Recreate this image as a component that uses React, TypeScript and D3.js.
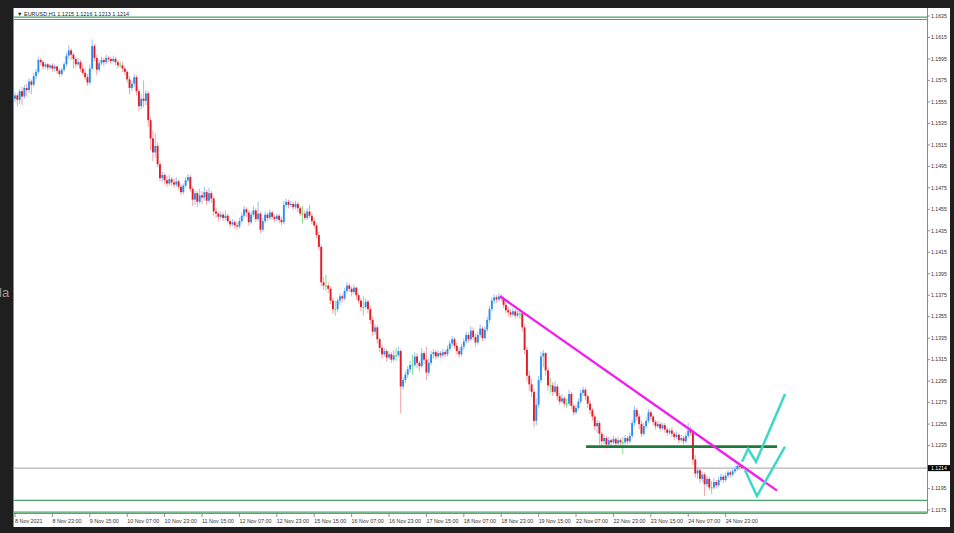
import React from 'react';
import * as d3 from 'd3';

// Hourly EURUSD bars, one list per trading day: [open, high, low, close]
type Bar = [number, number, number, number];

const nov08: Bar[] = [
  [1.1558,1.1564,1.1555,1.1561],[1.1561,1.1563,1.1551,1.1557],[1.1557,1.1567,1.1553,1.1565],
  [1.1565,1.1569,1.1552,1.1560],[1.1560,1.1571,1.1558,1.1568],[1.1568,1.1572,1.1560,1.1566],
  [1.1566,1.1577,1.1563,1.1574],[1.1574,1.1576,1.1562,1.1571],[1.1571,1.1582,1.1569,1.1579],
  [1.1579,1.1586,1.1576,1.1583],[1.1583,1.1597,1.1581,1.1594],[1.1594,1.1596,1.1589,1.1592],
  [1.1592,1.1594,1.1585,1.1588],[1.1588,1.1592,1.1586,1.1590],[1.1590,1.1591,1.1584,1.1587],
  [1.1587,1.1590,1.1585,1.1589],[1.1589,1.1591,1.1583,1.1586],
];
const nov09: Bar[] = [
  [1.1586,1.1590,1.1583,1.1588],[1.1588,1.1589,1.1581,1.1584],[1.1584,1.1586,1.1578,1.1581],
  [1.1581,1.1587,1.1579,1.1585],[1.1585,1.1592,1.1583,1.1590],[1.1590,1.1601,1.1588,1.1598],
  [1.1598,1.1608,1.1595,1.1603],[1.1603,1.1605,1.1594,1.1599],[1.1599,1.1601,1.1586,1.1595],
  [1.1595,1.1597,1.1587,1.1590],[1.1590,1.1596,1.1588,1.1592],[1.1592,1.1594,1.1583,1.1586],
  [1.1586,1.1591,1.1580,1.1582],[1.1582,1.1586,1.1575,1.1578],[1.1578,1.1581,1.1570,1.1573],
  [1.1573,1.1590,1.1571,1.1586],[1.1586,1.1613,1.1584,1.1607],[1.1607,1.1609,1.1593,1.1596],
  [1.1596,1.1599,1.1580,1.1585],[1.1585,1.1594,1.1583,1.1591],[1.1591,1.1597,1.1589,1.1594],
  [1.1594,1.1596,1.1588,1.1592],[1.1592,1.1599,1.1590,1.1596],[1.1596,1.1598,1.1592,1.1595],
];
const nov10: Bar[] = [
  [1.1595,1.1597,1.1590,1.1593],[1.1593,1.1598,1.1591,1.1595],[1.1595,1.1597,1.1589,1.1592],
  [1.1592,1.1594,1.1586,1.1589],[1.1589,1.1593,1.1587,1.1589],[1.1589,1.1592,1.1583,1.1586],
  [1.1586,1.1588,1.1580,1.1583],[1.1583,1.1585,1.1573,1.1576],[1.1576,1.1579,1.1562,1.1568],
  [1.1568,1.1575,1.1565,1.1572],[1.1572,1.1581,1.1569,1.1578],[1.1578,1.1580,1.1561,1.1565],
  [1.1565,1.1567,1.1546,1.1551],[1.1551,1.1562,1.1548,1.1558],[1.1558,1.1575,1.1550,1.1556],
  [1.1556,1.1566,1.1552,1.1563],[1.1563,1.1565,1.1532,1.1538],[1.1538,1.1541,1.1510,1.1521],
  [1.1521,1.1528,1.1500,1.1508],[1.1508,1.1526,1.1503,1.1514],[1.1514,1.1517,1.1494,1.1497],
  [1.1497,1.1500,1.1481,1.1484],[1.1484,1.1490,1.1480,1.1487],[1.1487,1.1489,1.1478,1.1482],
];
const nov11: Bar[] = [
  [1.1482,1.1486,1.1476,1.1479],[1.1479,1.1487,1.1477,1.1483],[1.1483,1.1485,1.1477,1.1480],
  [1.1480,1.1484,1.1475,1.1478],[1.1478,1.1485,1.1476,1.1481],[1.1481,1.1483,1.1473,1.1476],
  [1.1476,1.1478,1.1468,1.1471],[1.1471,1.1479,1.1469,1.1477],[1.1477,1.1485,1.1475,1.1482],
  [1.1482,1.1488,1.1480,1.1485],[1.1485,1.1487,1.1471,1.1474],[1.1474,1.1476,1.1458,1.1464],
  [1.1464,1.1473,1.1459,1.1470],[1.1470,1.1472,1.1457,1.1462],[1.1462,1.1474,1.1460,1.1468],
  [1.1468,1.1472,1.1460,1.1466],[1.1466,1.1476,1.1463,1.1471],[1.1471,1.1473,1.1459,1.1463],
  [1.1463,1.1475,1.1461,1.1470],[1.1470,1.1472,1.1461,1.1465],[1.1465,1.1467,1.1449,1.1453],
  [1.1453,1.1456,1.1447,1.1451],[1.1451,1.1453,1.1444,1.1448],[1.1448,1.1453,1.1446,1.1450],
];
const nov12: Bar[] = [
  [1.1450,1.1452,1.1444,1.1447],[1.1447,1.1454,1.1445,1.1449],[1.1449,1.1451,1.1442,1.1444],
  [1.1444,1.1446,1.1438,1.1441],[1.1441,1.1446,1.1439,1.1443],[1.1443,1.1445,1.1437,1.1440],
  [1.1440,1.1443,1.1436,1.1439],[1.1439,1.1447,1.1437,1.1444],[1.1444,1.1452,1.1442,1.1449],
  [1.1449,1.1458,1.1447,1.1455],[1.1455,1.1457,1.1448,1.1452],[1.1452,1.1454,1.1440,1.1443],
  [1.1443,1.1453,1.1441,1.1450],[1.1450,1.1458,1.1448,1.1454],[1.1454,1.1456,1.1443,1.1446],
  [1.1446,1.1462,1.1444,1.1451],[1.1451,1.1453,1.1433,1.1436],[1.1436,1.1447,1.1434,1.1444],
  [1.1444,1.1453,1.1442,1.1450],[1.1450,1.1452,1.1444,1.1447],[1.1447,1.1455,1.1445,1.1452],
  [1.1452,1.1454,1.1445,1.1448],[1.1448,1.1450,1.1443,1.1446],[1.1446,1.1451,1.1444,1.1449],
];
const nov15: Bar[] = [
  [1.1449,1.1451,1.1442,1.1445],[1.1445,1.1448,1.1440,1.1443],[1.1443,1.1463,1.1441,1.1459],
  [1.1459,1.1465,1.1457,1.1462],[1.1462,1.1464,1.1456,1.1459],[1.1459,1.1463,1.1457,1.1460],
  [1.1460,1.1462,1.1454,1.1457],[1.1457,1.1463,1.1455,1.1460],[1.1460,1.1462,1.1452,1.1456],
  [1.1456,1.1458,1.1449,1.1451],[1.1451,1.1458,1.1442,1.1451],[1.1451,1.1454,1.1445,1.1447],
  [1.1447,1.1456,1.1445,1.1453],[1.1453,1.1459,1.1447,1.1449],[1.1449,1.1452,1.1441,1.1444],
  [1.1444,1.1447,1.1437,1.1440],[1.1440,1.1442,1.1428,1.1431],[1.1431,1.1434,1.1417,1.1420],
  [1.1420,1.1422,1.1383,1.1387],[1.1387,1.1392,1.1380,1.1384],[1.1384,1.1394,1.1379,1.1384],
  [1.1384,1.1387,1.1377,1.1381],[1.1381,1.1383,1.1367,1.1370],[1.1370,1.1373,1.1358,1.1362],
];
const nov16: Bar[] = [
  [1.1362,1.1370,1.1356,1.1362],[1.1362,1.1372,1.1359,1.1370],[1.1370,1.1377,1.1366,1.1374],
  [1.1374,1.1376,1.1368,1.1372],[1.1372,1.1382,1.1370,1.1379],[1.1379,1.1387,1.1377,1.1384],
  [1.1384,1.1386,1.1378,1.1381],[1.1381,1.1383,1.1374,1.1378],[1.1378,1.1385,1.1376,1.1382],
  [1.1382,1.1383,1.1371,1.1375],[1.1375,1.1377,1.1367,1.1370],[1.1370,1.1372,1.1360,1.1364],
  [1.1364,1.1374,1.1356,1.1364],[1.1364,1.1372,1.1362,1.1369],[1.1369,1.1371,1.1358,1.1362],
  [1.1362,1.1365,1.1348,1.1352],[1.1352,1.1355,1.1337,1.1341],[1.1341,1.1348,1.1338,1.1345],
  [1.1345,1.1347,1.1330,1.1334],[1.1334,1.1336,1.1322,1.1326],[1.1326,1.1329,1.1316,1.1320],
  [1.1320,1.1326,1.1318,1.1323],[1.1323,1.1325,1.1313,1.1317],[1.1317,1.1323,1.1315,1.1320],
];
const nov17: Bar[] = [
  [1.1320,1.1322,1.1312,1.1315],[1.1315,1.1324,1.1313,1.1319],[1.1319,1.1326,1.1314,1.1319],
  [1.1319,1.1327,1.1317,1.1323],[1.1323,1.1325,1.1265,1.1290],[1.1290,1.1299,1.1287,1.1296],
  [1.1296,1.1304,1.1293,1.1301],[1.1301,1.1309,1.1298,1.1306],[1.1306,1.1314,1.1303,1.1310],
  [1.1310,1.1320,1.1301,1.1310],[1.1310,1.1322,1.1308,1.1318],[1.1318,1.1321,1.1307,1.1312],
  [1.1312,1.1314,1.1304,1.1309],[1.1309,1.1326,1.1307,1.1321],[1.1321,1.1323,1.1311,1.1315],
  [1.1315,1.1327,1.1296,1.1303],[1.1303,1.1316,1.1300,1.1312],[1.1312,1.1323,1.1310,1.1320],
  [1.1320,1.1325,1.1316,1.1322],[1.1322,1.1324,1.1315,1.1318],[1.1318,1.1324,1.1316,1.1321],
  [1.1321,1.1323,1.1316,1.1319],[1.1319,1.1325,1.1317,1.1322],[1.1322,1.1324,1.1317,1.1320],
];
const nov18: Bar[] = [
  [1.1320,1.1328,1.1318,1.1325],[1.1325,1.1333,1.1323,1.1330],[1.1330,1.1337,1.1327,1.1334],
  [1.1334,1.1336,1.1325,1.1328],[1.1328,1.1331,1.1320,1.1323],[1.1323,1.1326,1.1317,1.1320],
  [1.1320,1.1330,1.1318,1.1327],[1.1327,1.1335,1.1324,1.1332],[1.1332,1.1341,1.1330,1.1338],
  [1.1338,1.1340,1.1331,1.1334],[1.1334,1.1346,1.1332,1.1342],[1.1342,1.1345,1.1333,1.1336],
  [1.1336,1.1339,1.1327,1.1331],[1.1331,1.1341,1.1329,1.1338],[1.1338,1.1348,1.1336,1.1344],
  [1.1344,1.1346,1.1332,1.1335],[1.1335,1.1346,1.1333,1.1343],[1.1343,1.1355,1.1341,1.1352],
  [1.1352,1.1365,1.1349,1.1362],[1.1362,1.1373,1.1360,1.1370],[1.1370,1.1376,1.1367,1.1373],
  [1.1373,1.1375,1.1368,1.1371],[1.1371,1.1377,1.1369,1.1374],[1.1374,1.1376,1.1369,1.1372],
];
const nov19: Bar[] = [
  [1.1372,1.1374,1.1363,1.1366],[1.1366,1.1368,1.1358,1.1361],[1.1361,1.1364,1.1355,1.1359],
  [1.1359,1.1362,1.1354,1.1357],[1.1357,1.1363,1.1355,1.1360],[1.1360,1.1362,1.1353,1.1356],
  [1.1356,1.1361,1.1354,1.1358],[1.1358,1.1362,1.1353,1.1358],[1.1358,1.1360,1.1341,1.1345],
  [1.1345,1.1348,1.1320,1.1324],[1.1324,1.1327,1.1295,1.1300],[1.1300,1.1305,1.1286,1.1292],
  [1.1292,1.1297,1.1280,1.1285],[1.1285,1.1288,1.1252,1.1258],[1.1258,1.1279,1.1254,1.1273],
  [1.1273,1.1300,1.1270,1.1296],[1.1296,1.1322,1.1293,1.1318],[1.1318,1.1324,1.1308,1.1321],
  [1.1321,1.1322,1.1300,1.1305],[1.1305,1.1308,1.1286,1.1291],[1.1291,1.1298,1.1284,1.1291],
  [1.1291,1.1294,1.1281,1.1285],[1.1285,1.1295,1.1283,1.1290],[1.1290,1.1292,1.1277,1.1281],
];
const nov22: Bar[] = [
  [1.1281,1.1284,1.1273,1.1276],[1.1276,1.1283,1.1274,1.1279],[1.1279,1.1281,1.1271,1.1274],
  [1.1274,1.1279,1.1270,1.1274],[1.1274,1.1287,1.1272,1.1283],[1.1283,1.1285,1.1269,1.1272],
  [1.1272,1.1274,1.1263,1.1266],[1.1266,1.1273,1.1264,1.1270],[1.1270,1.1279,1.1268,1.1276],
  [1.1276,1.1287,1.1274,1.1284],[1.1284,1.1290,1.1281,1.1287],[1.1287,1.1289,1.1277,1.1281],
  [1.1281,1.1283,1.1270,1.1274],[1.1274,1.1277,1.1264,1.1268],[1.1268,1.1270,1.1258,1.1262],
  [1.1262,1.1264,1.1249,1.1253],[1.1253,1.1259,1.1247,1.1256],[1.1256,1.1258,1.1236,1.1246],
  [1.1246,1.1248,1.1233,1.1239],[1.1239,1.1245,1.1236,1.1242],[1.1242,1.1244,1.1232,1.1236],
  [1.1236,1.1243,1.1234,1.1240],[1.1240,1.1242,1.1234,1.1238],[1.1238,1.1244,1.1236,1.1241],
];
const nov23: Bar[] = [
  [1.1241,1.1243,1.1234,1.1237],[1.1237,1.1243,1.1235,1.1240],[1.1240,1.1242,1.1235,1.1238],
  [1.1238,1.1243,1.1227,1.1238],[1.1238,1.1245,1.1236,1.1242],[1.1242,1.1244,1.1236,1.1239],
  [1.1239,1.1247,1.1237,1.1244],[1.1244,1.1259,1.1242,1.1256],[1.1256,1.1272,1.1253,1.1268],
  [1.1268,1.1270,1.1258,1.1262],[1.1262,1.1265,1.1250,1.1255],[1.1255,1.1258,1.1243,1.1246],
  [1.1246,1.1256,1.1244,1.1253],[1.1253,1.1261,1.1251,1.1258],[1.1258,1.1269,1.1256,1.1266],
  [1.1266,1.1268,1.1259,1.1262],[1.1262,1.1264,1.1254,1.1257],[1.1257,1.1259,1.1250,1.1253],
  [1.1253,1.1258,1.1251,1.1255],[1.1255,1.1257,1.1248,1.1251],[1.1251,1.1256,1.1249,1.1254],
  [1.1254,1.1256,1.1247,1.1250],[1.1250,1.1252,1.1244,1.1247],[1.1247,1.1251,1.1245,1.1249],
];
const nov24: Bar[] = [
  [1.1249,1.1252,1.1243,1.1246],[1.1246,1.1248,1.1240,1.1243],[1.1243,1.1248,1.1241,1.1245],
  [1.1245,1.1247,1.1237,1.1240],[1.1240,1.1245,1.1238,1.1242],[1.1242,1.1244,1.1236,1.1239],
  [1.1239,1.1247,1.1237,1.1244],[1.1244,1.1256,1.1242,1.1249],[1.1249,1.1253,1.1244,1.1247],
  [1.1247,1.1250,1.1217,1.1222],[1.1222,1.1226,1.1205,1.1209],[1.1209,1.1215,1.1204,1.1212],
  [1.1212,1.1214,1.1200,1.1204],[1.1204,1.1211,1.1201,1.1208],[1.1208,1.1210,1.1188,1.1199],
  [1.1199,1.1207,1.1196,1.1204],[1.1204,1.1206,1.1193,1.1196],[1.1196,1.1202,1.1190,1.1196],
  [1.1196,1.1205,1.1194,1.1201],[1.1201,1.1203,1.1195,1.1198],[1.1198,1.1206,1.1196,1.1203],
  [1.1203,1.1209,1.1201,1.1206],[1.1206,1.1208,1.1200,1.1203],[1.1203,1.1210,1.1201,1.1207],
];
const nov25: Bar[] = [
  [1.1207,1.1212,1.1205,1.1210],[1.1210,1.1212,1.1205,1.1208],[1.1208,1.1214,1.1206,1.1211],
  [1.1211,1.1216,1.1209,1.1213],[1.1213,1.1218,1.1211,1.1216],[1.1216,1.1218,1.1212,1.1215],
  [1.1215,1.1216,1.1213,1.1214],
];

const days: Bar[][] = [nov08, nov09, nov10, nov11, nov12, nov15, nov16, nov17, nov18, nov19, nov22, nov23, nov24, nov25];

// Price axis labels
const priceTicks = [
  1.1635, 1.1615, 1.1595, 1.1575, 1.1555, 1.1535, 1.1515, 1.1495, 1.1475, 1.1455, 1.1435, 1.1415,
  1.1395, 1.1375, 1.1355, 1.1335, 1.1315, 1.1295, 1.1275, 1.1255, 1.1235, 1.1215, 1.1195, 1.1175,
];
// Time axis labels, one every 16 bars
const timeLabelStep = 16;
const timeLabels = [
  '8 Nov 2021', '8 Nov 23:00', '9 Nov 15:00', '10 Nov 07:00', '10 Nov 23:00', '11 Nov 15:00',
  '12 Nov 07:00', '12 Nov 23:00', '15 Nov 15:00', '16 Nov 07:00', '16 Nov 23:00', '17 Nov 15:00',
  '18 Nov 07:00', '18 Nov 23:00', '19 Nov 15:00', '22 Nov 07:00', '22 Nov 23:00', '23 Nov 15:00',
  '24 Nov 07:00', '24 Nov 23:00',
];

const symbol = 'EURUSD,H1';
const lastQuote = [1.1215, 1.1216, 1.1213, 1.1214];
const bidPrice = 1.1214;

// Drawn objects: [bar index, price]
const greenLevels = [1.1634, 1.1184, 1.1173];
const trendLine: [number, number][] = [[207.5, 1.1374], [326, 1.1193]];
const supportLine: [number, number][] = [[244.3, 1.1234], [326, 1.1234]];
const pathUpper: [number, number][] = [[311, 1.1220], [313.6, 1.1232], [317, 1.1220], [329.4, 1.1283]];
const pathLower: [number, number][] = [[312.3, 1.1212], [317.4, 1.1188], [329.4, 1.1234]];

const W = 954;
const H = 533;
const FONT = '"Liberation Sans", Arial, sans-serif';

export default function App() {
  const bars = days.flat();
  const x = d3.scaleLinear().domain([0, bars.length - 1]).range([15, 742]);
  const y = d3.scaleLinear().domain([1.1175, 1.1635]).range([510, 16]);

  const plotLeft = 13;
  const axisX = 927;
  const plotTop = 8;
  const plotBottom = 513.5;

  const line = d3.line<[number, number]>().x(d => x(d[0])).y(d => y(d[1]));
  const fmt = d3.format('.4f');

  return (
    <svg width={W} height={H} style={{ position: 'absolute', left: 0, top: 0, display: 'block' }}>
      <rect x={0} y={0} width={W} height={H} fill="#1f1f1f" />
      <text x={-1} y={297} fontFamily={FONT} fontSize={13} fill="#9b9b9b">la</text>
      {/* chart window */}
      <rect x={plotLeft} y={plotTop} width={950 - plotLeft} height={527 - plotTop} fill="#ffffff" />
      <line x1={plotLeft + 0.5} x2={plotLeft + 0.5} y1={plotTop} y2={527} stroke="#8a8a8a" strokeWidth={1} />

      {/* header */}
      <text x={17} y={15.5} fontFamily={FONT} fontSize={5.5} fill="#222">
        {'▼ ' + symbol + '  ' + lastQuote.map(fmt).join(' ')}
      </text>

      {/* horizontal level lines */}
      {greenLevels.map((p, i) => (
        <line key={'lv' + i} x1={plotLeft} x2={axisX} y1={y(p)} y2={y(p)} stroke="#4aa56a" strokeWidth={1.2} />
      ))}
      <line x1={plotLeft} x2={axisX} y1={19.5} y2={19.5} stroke="#7c8a80" strokeWidth={1} />
      <line x1={plotLeft} x2={axisX} y1={plotBottom} y2={plotBottom} stroke="#8a8a8a" strokeWidth={1} />

      {/* bid line */}
      <line x1={plotLeft} x2={axisX} y1={y(bidPrice)} y2={y(bidPrice)} stroke="#a3a3a3" strokeWidth={1} />

      {/* candles */}
      {bars.map(([o, h, l, c], i) => {
        const cx = x(i);
        const up = c > o;
        const down = c < o;
        const wick = up ? '#93c4f2' : down ? '#f2a2a8' : '#86de86';
        const body = up ? '#2c8ff0' : down ? '#e01c26' : '#52cc52';
        const top = y(Math.max(o, c));
        const bh = Math.max(0.9, Math.abs(y(o) - y(c)));
        return (
          <g key={'b' + i}>
            <line x1={cx} x2={cx} y1={y(h)} y2={y(l)} stroke={wick} strokeWidth={1} />
            <rect x={cx - 0.95} y={top} width={1.9} height={bh} fill={body} />
          </g>
        );
      })}

      {/* drawn objects */}
      <path d={line(supportLine) || ''} stroke="#1e7a3a" strokeWidth={2.6} fill="none" />
      <path d={line(trendLine) || ''} stroke="#f01ef0" strokeWidth={2.3} fill="none" />
      <path d={line(pathUpper) || ''} stroke="#3ed8c9" strokeWidth={2.5} fill="none" strokeLinejoin="miter" />
      <path d={line(pathLower) || ''} stroke="#3ed8c9" strokeWidth={2.5} fill="none" strokeLinejoin="miter" />

      {/* price axis */}
      <line x1={axisX + 0.5} x2={axisX + 0.5} y1={plotTop} y2={plotBottom} stroke="#8a8a8a" strokeWidth={1} />
      {priceTicks.map(p => (
        <g key={'pt' + p}>
          <line x1={axisX} x2={axisX + 3} y1={y(p)} y2={y(p)} stroke="#777" strokeWidth={0.8} />
          <text x={axisX + 4} y={y(p) + 1.8} fontFamily={FONT} fontSize={5.2} fill="#333">{fmt(p)}</text>
        </g>
      ))}
      <rect x={axisX + 1} y={y(bidPrice) - 3} width={22} height={6} fill="#000" />
      <text x={axisX + 4} y={y(bidPrice) + 1.8} fontFamily={FONT} fontSize={5.2} fill="#fff">{fmt(bidPrice)}</text>

      {/* time axis */}
      {timeLabels.map((t, k) => {
        const tx = x(k * timeLabelStep);
        return (
          <g key={'tl' + k}>
            <line x1={tx} x2={tx} y1={plotBottom} y2={plotBottom + 3.5} stroke="#777" strokeWidth={0.8} />
            <text x={tx} y={522.5} fontFamily={FONT} fontSize={5.4} fill="#333">{t}</text>
          </g>
        );
      })}
    </svg>
  );
}
